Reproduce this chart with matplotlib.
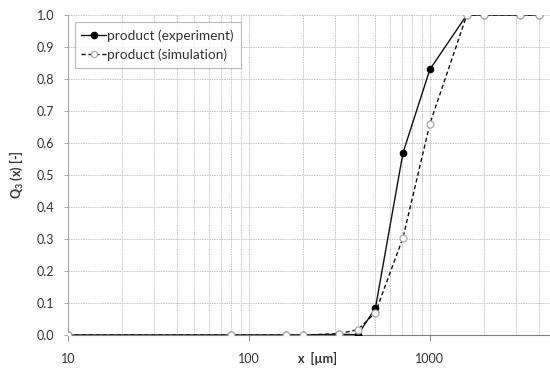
import matplotlib.pyplot as plt
from matplotlib.ticker import FixedLocator, NullFormatter

# particle size [µm]
x_um = [10, 80, 160, 200, 315, 400, 500, 710, 1000, 1600, 2000, 3150, 4000]
q3_experiment = [0, 0, 0, 0, 0.002, 0.001, 0.084, 0.569, 0.83, 1.0, 1.0, 1.0, 1.0]
q3_simulation = [0, 0, 0, 0, 0.004, 0.017, 0.07, 0.304, 0.66, 1.0, 1.0, 1.0, 1.0]

major_x = [10, 100, 1000]
minor_x = [20, 30, 40, 50, 60, 70, 80, 90,
           200, 300, 400, 500, 600, 700, 800, 900,
           2000, 3000, 4000]
y_ticks = [i / 10 for i in range(11)]

plt.rcParams['font.family'] = ['Lato', 'DejaVu Sans']
txt = '#333333'
grid_c = '#c4c4c4'

fig = plt.figure(figsize=(5.5, 3.7), dpi=100)
fig.patch.set_facecolor('white')
ax = fig.add_axes([0.1236, 0.0946, 0.888, 0.865])

ax.plot(x_um, q3_experiment, '-', color='#111111', lw=1.0,
        marker='o', ms=4.5, mfc='black', mec='black', label='product (experiment)', zorder=4)
ax.plot(x_um, q3_simulation, '--', color='#111111', lw=1.0, dashes=(3, 2),
        marker='o', ms=5, mfc='white', mec='#aaaaaa', mew=0.9,
        label='product (simulation)', zorder=5)

ax.set_xscale('log')
ax.set_xlim(10, 5000)
ax.set_ylim(0, 1.0)

ax.xaxis.set_major_locator(FixedLocator(major_x))
ax.xaxis.set_minor_locator(FixedLocator(minor_x))
ax.xaxis.set_minor_formatter(NullFormatter())
ax.set_xticklabels(['10', '100', '1000'])
ax.set_yticks(y_ticks)
ax.set_yticklabels([f'{v:.1f}' for v in y_ticks])

# grille pointillée claire
ax.grid(which='both', axis='x', color=grid_c, ls=(0, (1.5, 1)), lw=0.7)
ax.grid(which='major', axis='y', color=grid_c, ls=(0, (1.5, 1)), lw=0.7)
ax.set_axisbelow(True)

for s in ['top', 'right']:
    ax.spines[s].set_visible(False)
ax.spines['left'].set_color('#a8a8a8')
ax.spines['bottom'].set_color('#808080')

ax.tick_params(axis='both', which='major', labelsize=9, colors=txt, length=4, width=0.7)
ax.tick_params(axis='x', which='major', color='#909090', pad=9)
ax.tick_params(axis='y', which='major', color='#a8a8a8', length=3, pad=7)
ax.tick_params(axis='x', which='minor', length=0)

ax.text(0.51, -0.073, 'x  [µm]', transform=ax.transAxes, ha='center', va='center',
        fontsize=9, fontweight='bold', color=txt)
ax.set_ylabel('Q$_\\mathregular{3}$ (x) [-]', fontsize=9, fontweight='bold', color=txt, labelpad=8)

leg = ax.legend(loc='upper left', bbox_to_anchor=(0.008, 0.985), fontsize=9.8,
                frameon=True, fancybox=False, handlelength=1.8, handletextpad=0.1,
                borderpad=0.5, labelspacing=0.5, borderaxespad=0.2)
leg.get_frame().set_edgecolor('#aaaaaa')
leg.get_frame().set_linewidth(0.8)
for t in leg.get_texts():
    t.set_color(txt)
for h in leg.legend_handles:
    h.set_markersize(4.5)

fig.savefig('out.png', dpi=100)
